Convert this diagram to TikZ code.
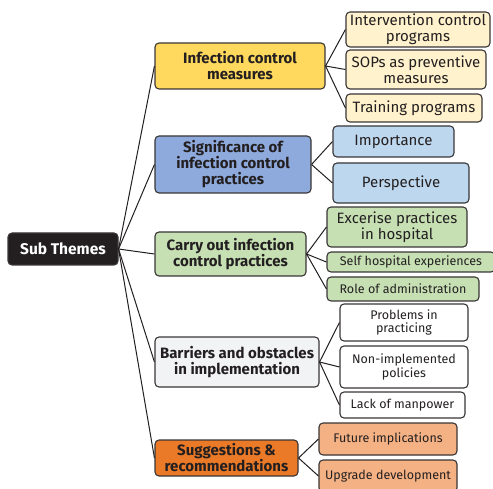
\documentclass[tikz,border=0pt]{standalone}
\usepackage{fontspec}
\setmainfont{Fira Sans}
\usetikzlibrary{shapes}

\definecolor{ink}{HTML}{231F20}
\definecolor{yel}{HTML}{FFD95E}
\definecolor{yellt}{HTML}{FFF2CC}
\definecolor{blu}{HTML}{8EA9DB}
\definecolor{blult}{HTML}{BDD7EE}
\definecolor{grn}{HTML}{C6E0B4}
\definecolor{gry}{HTML}{F2F3F5}
\definecolor{org}{HTML}{EA7A27}
\definecolor{orglt}{HTML}{F4B183}

\begin{document}
\begin{tikzpicture}[x=1pt,y=-1pt]
\tikzset{box/.style = {shape=rectangle,rounded corners=4pt,draw=ink!90,line width=1.1pt,align=center,inner sep=0pt,text=ink}}
\tikzset{theme/.style = {box,font=\fontsize{15}{16}\selectfont\bfseries}}
\tikzset{leaf/.style = {box,font=\fontsize{15}{16}\selectfont}}
\tikzset{smallleaf/.style = {box,font=\fontsize{12.5}{13.5}\selectfont}}
\tikzset{edge/.style = {line width=1pt,draw=ink}}
\useasboundingbox (0,0) rectangle (493,489);

% root
\node[box,fill=ink,text=white,font=\fontsize{15.5}{16}\selectfont\bfseries,minimum width=110pt,minimum height=32pt] (root) at (63,249) {Sub Themes};

% sub themes
\node[theme,fill=yel,minimum width=170pt,minimum height=46pt] (icm) at (240,66) {Infection control\\measures};
\node[theme,fill=blu,minimum width=156pt,minimum height=57pt] (sig) at (233,164.5) {Significance of\\infection control\\practices};
\node[theme,fill=grn,minimum width=151pt,minimum height=44pt] (cop) at (230.5,254) {Carry out infection\\control practices};
\node[theme,fill=gry,minimum width=164pt,minimum height=50pt] (bar) at (237,362) {Barriers and obstacles\\in implementation};
\node[theme,fill=org,minimum width=143pt,minimum height=36pt] (sug) at (226.5,458) {Suggestions \&\\recommendations};

% leaves
\node[leaf,fill=yellt,minimum width=144pt,minimum height=35pt] (icp) at (418,29.5) {Intervention control\\programs};
\node[leaf,fill=yellt,minimum width=140pt,minimum height=39pt] (sop) at (416,69.5) {SOPs as preventive\\measures};
\node[leaf,fill=yellt,minimum width=136pt,minimum height=28pt] (trp) at (414,108) {Training programs};

\node[leaf,fill=blult,minimum width=121pt,minimum height=31pt] (imp) at (393.5,141.5) {Importance};
\node[leaf,fill=blult,minimum width=136pt,minimum height=40pt] (per) at (401,183) {Perspective};

\node[leaf,fill=grn,minimum width=140pt,minimum height=40pt] (exp) at (397,227) {Excerise practices\\in hospital};
\node[smallleaf,fill=grn,minimum width=168pt,minimum height=20pt] (shx) at (411,262) {Self hospital experiences};
\node[smallleaf,fill=grn,minimum width=152pt,minimum height=24pt] (roa) at (403,289) {Role of administration};

\node[smallleaf,fill=white,minimum width=128pt,minimum height=37pt] (pip) at (404,322.5) {Problems in\\practicing};
\node[smallleaf,fill=white,minimum width=128pt,minimum height=42pt] (nip) at (404,367) {Non-implemented\\policies};
\node[smallleaf,fill=white,minimum width=125pt,minimum height=26pt] (lom) at (402.5,405) {Lack of manpower};

\node[smallleaf,fill=orglt,minimum width=138pt,minimum height=32pt] (fui) at (388,439) {Future implications};
\node[smallleaf,fill=orglt,minimum width=138pt,minimum height=32pt] (upd) at (388,476) {Upgrade development};

\draw[edge] (root.east) to (icm.west);
\draw[edge] (root.east) to (sig.west);
\draw[edge] (root.east) to (cop.west);
\draw[edge] (root.east) to (bar.west);
\draw[edge] (root.east) to (sug.west);

\draw[edge] (icm.east) to (icp.west);
\draw[edge] (icm.east) to (sop.west);
\draw[edge] (icm.east) to (trp.west);
\draw[edge] (sig.east) to (imp.west);
\draw[edge] (sig.east) to (per.west);
\draw[edge] (cop.east) to (exp.west);
\draw[edge] (cop.east) to (shx.west);
\draw[edge] (cop.east) to (roa.west);
\draw[edge] (bar.east) to (pip.west);
\draw[edge] (bar.east) to (nip.west);
\draw[edge] (bar.east) to (lom.west);
\draw[edge] (sug.east) to (fui.west);
\draw[edge] (sug.east) to (upd.west);
\end{tikzpicture}
\end{document}
